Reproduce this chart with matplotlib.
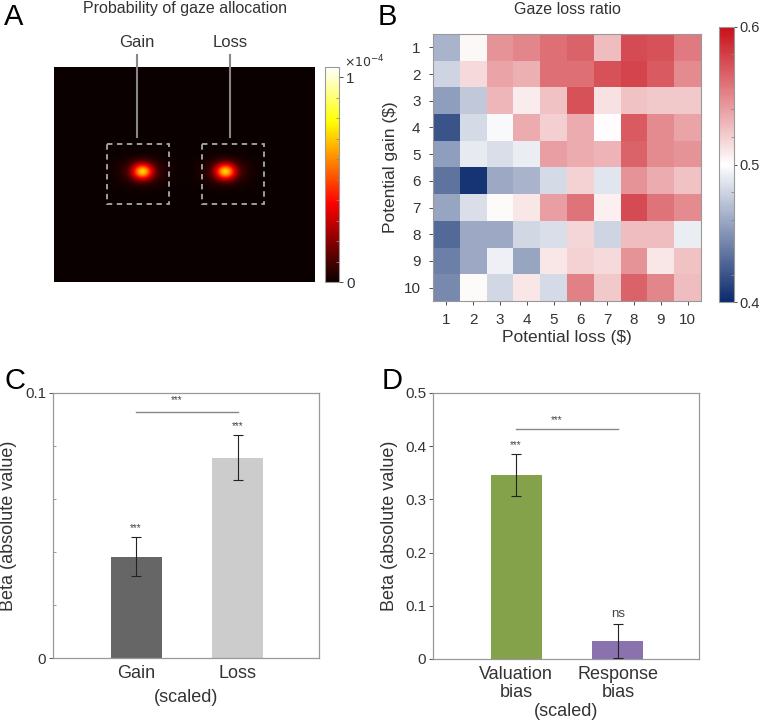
import numpy as np
import matplotlib
matplotlib.use("Agg")
import matplotlib.pyplot as plt
from matplotlib.colors import LinearSegmentedColormap
from matplotlib.patches import Rectangle
from matplotlib.ticker import MultipleLocator

plt.rcParams['font.family'] = ['Liberation Sans', 'DejaVu Sans']

# ---------------- Data ----------------
# Panel A: gaze density blobs (image pixel coords), amplitude in units of 1e-4
blob_cx = [88, 171]
blob_cy = [104, 104]
blob_sx = [7, 7]
blob_sy = [5.5, 5.5]
blob_peak = [0.62, 0.62]
img_w, img_h = 261, 215
roi_labels = ["Gain", "Loss"]
roi_x0 = [53, 148]
roi_x1 = [115, 210]
roi_y0 = [77, 77]
roi_y1 = [137, 137]
roi_line_x = [83, 176]

# Panel B: gaze loss ratio (rows: potential gain 1..10, cols: potential loss 1..10)
gain_levels = list(range(1, 11))
loss_levels = list(range(1, 11))
ratio = np.array([
    [0.465, 0.503, 0.545, 0.550, 0.560, 0.565, 0.528, 0.575, 0.572, 0.555],
    [0.480, 0.515, 0.538, 0.533, 0.560, 0.560, 0.572, 0.578, 0.568, 0.548],
    [0.455, 0.475, 0.530, 0.508, 0.525, 0.572, 0.512, 0.525, 0.522, 0.522],
    [0.420, 0.483, 0.497, 0.535, 0.520, 0.535, 0.501, 0.568, 0.548, 0.538],
    [0.455, 0.490, 0.485, 0.492, 0.540, 0.535, 0.532, 0.565, 0.548, 0.545],
    [0.435, 0.405, 0.460, 0.465, 0.483, 0.518, 0.488, 0.545, 0.535, 0.525],
    [0.458, 0.485, 0.502, 0.510, 0.540, 0.558, 0.507, 0.575, 0.558, 0.548],
    [0.430, 0.460, 0.460, 0.482, 0.485, 0.517, 0.480, 0.528, 0.528, 0.492],
    [0.440, 0.460, 0.493, 0.458, 0.510, 0.518, 0.515, 0.545, 0.510, 0.525],
    [0.445, 0.502, 0.482, 0.510, 0.483, 0.553, 0.522, 0.565, 0.550, 0.528],
])

# Panel C
c_labels = ["Gain", "Loss"]
c_values = [0.0383, 0.0756]
c_errors = [0.0072, 0.0085]
c_colors = ["#666666", "#cccccc"]
c_sig = ["***", "***"]

# Panel D
d_labels = ["Valuation\nbias", "Response\nbias"]
d_values = [0.346, 0.034]
d_errors = [0.039, 0.032]
d_colors = ["#84a24a", "#8a72ae"]
d_sig = ["***", "ns"]

W, H = 762, 722
fig = plt.figure(figsize=(W / 100, H / 100), dpi=100)

def fx(px):
    return px / W

def fy(py):
    return 1 - py / H

def axes_px(x0, y0, x1, y1):
    return fig.add_axes([fx(x0), fy(y1), fx(x1 - x0), (y1 - y0) / H])

TXT = "#333333"
FRAME = "#999999"

# ---------------- Panel A ----------------
axA = axes_px(54, 67, 315, 282)
yy, xx = np.mgrid[0:img_h, 0:img_w]
dens = np.zeros((img_h, img_w))
for cx, cy, sx, sy, pk in zip(blob_cx, blob_cy, blob_sx, blob_sy, blob_peak):
    dens += pk * np.exp(-(((xx - cx) / sx) ** 2 + ((yy - cy) / sy) ** 2) / 2)
    dens += 0.15 * pk * np.exp(-(((xx - cx) / (2.3 * sx)) ** 2 + ((yy - cy) / (1.7 * sy)) ** 2) / 2)
imA = axA.imshow(dens * 1e-4, cmap="hot", vmin=0, vmax=1.05e-4, aspect="auto",
                 extent=[0, img_w, img_h, 0], interpolation="bilinear")
axA.set_xlim(0, img_w)
axA.set_ylim(img_h, 0)
axA.set_xticks([])
axA.set_yticks([])
for s in axA.spines.values():
    s.set_visible(False)
for lab, x0, x1, y0, y1, lx in zip(roi_labels, roi_x0, roi_x1, roi_y0, roi_y1, roi_line_x):
    axA.add_patch(Rectangle((x0, y0), x1 - x0, y1 - y0, fill=False, ec="#aaaaaa",
                            lw=1.3, ls=(0, (3, 2.5))))
    axA.plot([lx, lx], [-12, y0 - 7], color="#888888", lw=1.5, clip_on=False)
    axA.text(lx, -25, lab, ha="center", va="center", fontsize=12, color=TXT)
fig.text(fx(185), fy(9), "Probability of gaze allocation", ha="center", va="center",
         fontsize=11.5, color=TXT)
fig.text(fx(4), fy(17), "A", fontsize=21, ha="left", va="center")

caxA = axes_px(325, 67, 339, 282)
cbA = fig.colorbar(imA, cax=caxA)
cbA.set_ticks([0, 1e-4])
cbA.set_ticklabels(["0", "1"])
cbA.ax.yaxis.set_minor_locator(MultipleLocator(0.1e-4))
cbA.ax.tick_params(which="major", length=3, labelsize=11, colors=TXT, width=0.6, pad=2)
cbA.ax.tick_params(which="minor", length=2, direction="in", colors="#888888", width=0.6)
cbA.outline.set_edgecolor(FRAME)
cbA.outline.set_linewidth(0.8)
fig.text(fx(344), fy(62), r"$\times10^{-4}$", fontsize=9, color=TXT, ha="left", va="center")

# ---------------- Panel B ----------------
axB = axes_px(433, 34, 701, 301)
cmapB = LinearSegmentedColormap.from_list("bwr_custom", ["#0b2a6d", "#ffffff", "#c8101a"])
imB = axB.imshow(ratio, cmap=cmapB, vmin=0.4, vmax=0.6, aspect="auto",
                 extent=[0.5, 10.5, 10.5, 0.5], interpolation="nearest")
axB.set_xticks(loss_levels)
axB.set_yticks(gain_levels)
axB.tick_params(labelsize=11, colors=TXT, length=3, width=0.6, pad=6)
for s in axB.spines.values():
    s.set_edgecolor(FRAME)
    s.set_linewidth(0.8)
axB.set_xlabel("Potential loss ($)", fontsize=12.5, color=TXT, labelpad=2)
axB.set_ylabel("Potential gain ($)", fontsize=12.5, color=TXT, labelpad=4)
fig.text(fx(567), fy(9), "Gaze loss ratio", ha="center", va="center",
         fontsize=11.5, color=TXT)
fig.text(fx(378), fy(17), "B", fontsize=21, ha="left", va="center")

caxB = axes_px(719, 27, 734, 302)
cbB = fig.colorbar(imB, cax=caxB)
cbB.set_ticks([0.4, 0.5, 0.6])
cbB.set_ticklabels(["0.4", "0.5", "0.6"])
cbB.ax.yaxis.set_minor_locator(MultipleLocator(0.02))
cbB.ax.tick_params(which="major", length=2, labelsize=10.5, colors=TXT, width=0.6, pad=2)
cbB.ax.tick_params(which="minor", length=2, direction="in", colors="#888888", width=0.6)
cbB.outline.set_edgecolor(FRAME)
cbB.outline.set_linewidth(0.8)

# ---------------- Panels C & D ----------------
def bar_panel(ax, labels, values, errors, colors, sig, ymax, yticks, yticklabels,
              minor, star_off, bracket_y, bracket_txt_y):
    xs = np.arange(1, len(values) + 1)
    ax.bar(xs, values, width=0.5, color=colors, zorder=2)
    ax.errorbar(xs, values, yerr=errors, fmt="none", ecolor="#222222", elinewidth=0.8,
                capsize=3.5, capthick=0.8, zorder=3)
    for x, v, e, s in zip(xs, values, errors, sig):
        fs = 7 if s.startswith("*") else 9.5
        ax.text(x, v + e + star_off, s, ha="center", va="bottom", fontsize=fs, color="#444444")
    ax.plot([xs[0], xs[1]], [bracket_y, bracket_y], color="#888888", lw=1)
    ax.text((xs[0] + xs[1]) / 2 - 0.1, bracket_txt_y, "***", ha="center", va="bottom",
            fontsize=7, color="#444444")
    ax.set_xlim(0.185, 2.795)
    ax.set_ylim(0, ymax)
    ax.set_yticks(yticks)
    ax.set_yticklabels(yticklabels)
    ax.yaxis.set_minor_locator(MultipleLocator(minor))
    ax.set_xticks(xs)
    ax.set_xticklabels(labels, fontsize=13, color=TXT, linespacing=1.05)
    ax.tick_params(axis="x", length=0, pad=5)
    ax.tick_params(axis="y", which="major", length=3, labelsize=11, colors=TXT, width=0.6, pad=2)
    ax.tick_params(axis="y", which="minor", length=2, direction="in", color="#888888", width=0.6)
    for sp in ax.spines.values():
        sp.set_edgecolor(FRAME)
        sp.set_linewidth(0.9)
    ax.set_ylabel("Beta (absolute value)", fontsize=13, color=TXT)

axC = axes_px(53, 393, 319, 658)
bar_panel(axC, c_labels, c_values, c_errors, c_colors, c_sig, 0.1, [0, 0.1], ["0", "0.1"],
          0.02, 0.0015, 0.093, 0.0955)
axC.yaxis.set_label_coords(-0.135, 0.5)
fig.text(fx(186), fy(697), "(scaled)", fontsize=13, color=TXT, ha="center", va="center")
fig.text(fx(4), fy(381), "C", fontsize=21, ha="left", va="center")

axD = axes_px(433, 393, 699, 659)
bar_panel(axD, d_labels, d_values, d_errors, d_colors, d_sig, 0.5,
          [0, 0.1, 0.2, 0.3, 0.4, 0.5], ["0", "0.1", "0.2", "0.3", "0.4", "0.5"],
          0.1, 0.008, 0.432, 0.44)
axD.yaxis.set_label_coords(-0.13, 0.5)
fig.text(fx(566), fy(712), "(scaled)", fontsize=13, color=TXT, ha="center", va="center")
fig.text(fx(382), fy(381), "D", fontsize=21, ha="left", va="center")

fig.savefig("out.png", dpi=100)
